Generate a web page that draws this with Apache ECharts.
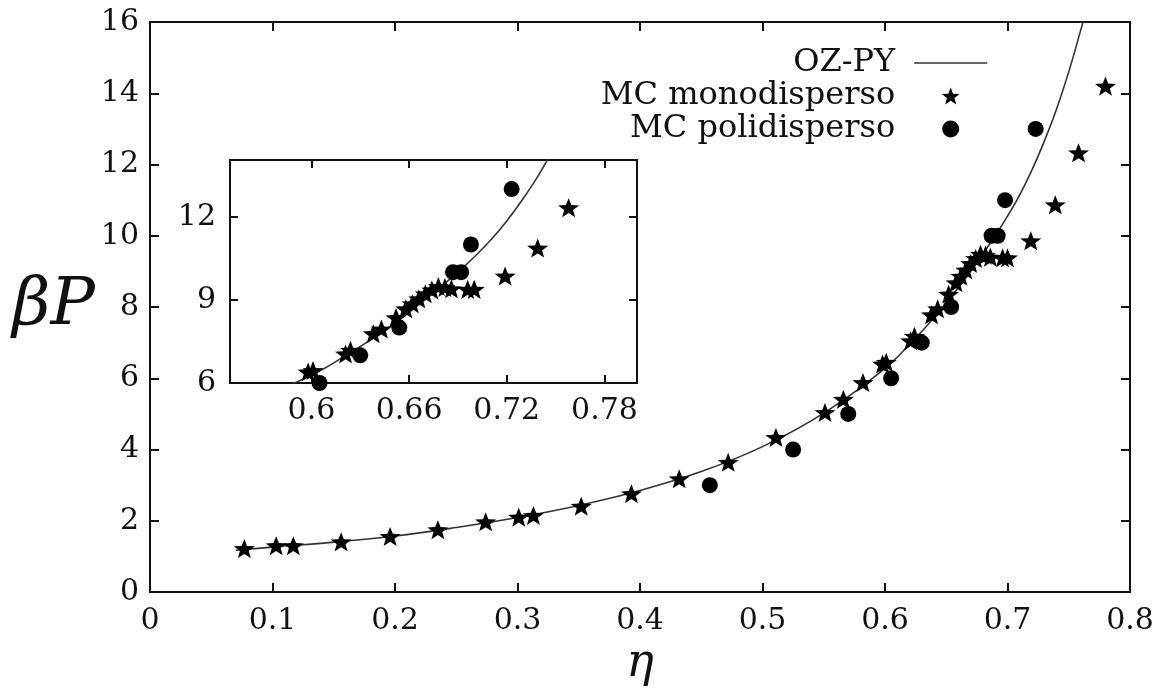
<!DOCTYPE html>
<html>
<head>
<meta charset="utf-8">
<script src="https://cdn.jsdelivr.net/npm/echarts@6/dist/echarts.min.js"></script>
<style>
html,body{margin:0;padding:0;background:#fff;}
#chart{width:1168px;height:692px;}
</style>
</head>
<body>
<div id="chart"></div>
<script>
// ---- data ----
const curveEta = [0.07, 0.10, 0.15, 0.20, 0.25, 0.30, 0.35, 0.40, 0.45, 0.50, 0.55, 0.60, 0.62, 0.64, 0.66, 0.68, 0.69, 0.70, 0.71, 0.72, 0.73, 0.74, 0.75, 0.76, 0.765];
const curveP   = [1.17, 1.26, 1.40, 1.57, 1.81, 2.09, 2.43, 2.85, 3.38, 4.08, 5.02, 6.28, 6.95, 7.70, 8.55, 9.50, 10.00, 10.55, 11.15, 11.85, 12.65, 13.55, 14.60, 15.80, 16.40];

const monoEta = [0.077, 0.103, 0.117, 0.156, 0.196, 0.235, 0.274, 0.301, 0.313, 0.352, 0.393, 0.432, 0.472, 0.511, 0.551, 0.566, 0.582, 0.598, 0.601, 0.621, 0.624, 0.638, 0.643, 0.652, 0.658, 0.662, 0.666, 0.670, 0.674, 0.678, 0.682, 0.686, 0.696, 0.700, 0.719, 0.739, 0.758, 0.780];
const monoP   = [1.22, 1.30, 1.30, 1.41, 1.56, 1.75, 1.97, 2.10, 2.15, 2.41, 2.76, 3.18, 3.64, 4.34, 5.04, 5.41, 5.88, 6.40, 6.45, 7.05, 7.18, 7.78, 7.95, 8.36, 8.68, 8.86, 9.04, 9.22, 9.36, 9.48, 9.45, 9.40, 9.38, 9.38, 9.86, 10.87, 12.33, 14.20];

const poliEta = [0.457, 0.525, 0.570, 0.605, 0.630, 0.654, 0.687, 0.692, 0.698, 0.723];
const poliP   = [3.0, 4.0, 5.0, 6.0, 7.0, 8.0, 10.0, 10.0, 11.0, 13.0];

const insetXTicks = [0.6, 0.66, 0.72, 0.78];
const insetYTicks = [6, 9, 12];

const seriesNames = ['OZ-PY', 'MC monodisperso', 'MC polidisperso'];

// ---- build ----
const zip = (a, b) => a.map((v, i) => [v, b[i]]);
const curve = zip(curveEta, curveP);
const mono = zip(monoEta, monoP);
const poli = zip(poliEta, poliP);

const STAR = 'path://M100,0 L124.7,66 L195.1,69.1 L139.9,113 L158.8,180.9 L100,142 L41.2,180.9 L60.1,113 L4.9,69.1 L75.3,66 Z';
const FONT = 'DejaVu Serif';
const INK = '#111';
const labelStyle = { fontFamily: FONT, fontSize: 30, color: INK };
const lineStyleAxis = { color: INK, width: 2 };
const curveLine = { color: '#333', width: 1.6 };
const markStyle = { color: '#000', opacity: 1 };

function xAx(grid, pos, min, max, extra, showLabel) {
  return Object.assign({
    type: 'value', gridIndex: grid, position: pos, min: min, max: max,
    axisLine: { show: true, onZero: false, lineStyle: lineStyleAxis },
    axisTick: { show: true, inside: true, length: 9, lineStyle: lineStyleAxis },
    axisLabel: Object.assign({ show: showLabel, margin: 14 }, labelStyle),
    splitLine: { show: false }
  }, extra);
}
function yAx(grid, pos, min, max, extra, showLabel) {
  return Object.assign({
    type: 'value', gridIndex: grid, position: pos, min: min, max: max,
    axisLine: { show: true, onZero: false, lineStyle: lineStyleAxis },
    axisTick: { show: true, inside: true, length: 9, lineStyle: lineStyleAxis },
    axisLabel: Object.assign({ show: showLabel, margin: 11 }, labelStyle),
    splitLine: { show: false }
  }, extra);
}

const insetXExtra = {
  axisTick: { show: true, inside: true, length: 8, lineStyle: lineStyleAxis, customValues: insetXTicks },
  axisLabel: Object.assign({ margin: 13, customValues: insetXTicks }, labelStyle)
};
const insetXTopExtra = {
  axisTick: { show: true, inside: true, length: 8, lineStyle: lineStyleAxis, customValues: insetXTicks },
  axisLabel: { show: false }
};
const insetYExtra = {
  axisTick: { show: true, inside: true, length: 8, lineStyle: lineStyleAxis, customValues: insetYTicks },
  axisLabel: Object.assign({ margin: 14, customValues: insetYTicks }, labelStyle)
};
const insetYRightExtra = {
  axisTick: { show: true, inside: true, length: 8, lineStyle: lineStyleAxis, customValues: insetYTicks },
  axisLabel: { show: false }
};

const chart = echarts.init(document.getElementById('chart'), null, { renderer: 'canvas' });
chart.setOption({
  animation: false,
  backgroundColor: '#fff',
  grid: [
    { left: 150, right: 38, top: 22, bottom: 100, show: true, borderColor: INK, borderWidth: 2, backgroundColor: '#fff' },
    { left: 230, top: 160, width: 407, height: 223, show: true, borderColor: INK, borderWidth: 2, backgroundColor: '#fff' }
  ],
  legend: {
    orient: 'vertical', align: 'right', right: 180, top: 47, padding: 0,
    itemWidth: 73, itemHeight: 17, itemGap: 1,
    data: [
      { name: seriesNames[0], itemStyle: { opacity: 0 }, lineStyle: { color: '#333', width: 1.6 } },
      { name: seriesNames[1] },
      { name: seriesNames[2] }
    ],
    textStyle: { fontFamily: FONT, fontSize: 32, color: INK, padding: [0, 14, 0, 0] },
    selectedMode: false
  },
  xAxis: [
    xAx(0, 'bottom', 0, 0.8, { interval: 0.1, name: 'η', nameLocation: 'middle', nameGap: 38,
      nameTextStyle: { fontFamily: FONT, fontStyle: 'italic', fontSize: 46, color: INK } }, true),
    xAx(0, 'top', 0, 0.8, { interval: 0.1 }, false),
    xAx(1, 'bottom', 0.55, 0.80, insetXExtra, true),
    xAx(1, 'top', 0.55, 0.80, insetXTopExtra, false)
  ],
  yAxis: [
    yAx(0, 'left', 0, 16, { interval: 2, name: 'βP', nameLocation: 'middle', nameRotate: 0, nameGap: 34,
      nameTextStyle: { fontFamily: FONT, fontStyle: 'italic', fontSize: 66, color: INK } }, true),
    yAx(0, 'right', 0, 16, { interval: 2 }, false),
    yAx(1, 'left', 6, 14.05, insetYExtra, true),
    yAx(1, 'right', 6, 14.05, insetYRightExtra, false)
  ],
  series: [
    { name: seriesNames[0], type: 'line', xAxisIndex: 0, yAxisIndex: 0, data: curve, smooth: 0.4,
      symbol: 'none', lineStyle: curveLine, itemStyle: { color: '#333' }, clip: true, z: 2 },
    { name: seriesNames[1], type: 'scatter', xAxisIndex: 0, yAxisIndex: 0, data: mono,
      symbol: STAR, symbolSize: [21, 20], symbolKeepAspect: true, itemStyle: markStyle, z: 3 },
    { name: seriesNames[2], type: 'scatter', xAxisIndex: 0, yAxisIndex: 0, data: poli,
      symbol: 'circle', symbolSize: 16, itemStyle: markStyle, z: 3 },
    { name: seriesNames[0], type: 'line', xAxisIndex: 2, yAxisIndex: 2, data: curve, smooth: 0.4,
      symbol: 'none', lineStyle: curveLine, itemStyle: { color: '#333' }, clip: true, z: 5 },
    { name: seriesNames[1], type: 'scatter', xAxisIndex: 2, yAxisIndex: 2, data: mono,
      symbol: STAR, symbolSize: [21, 20], symbolKeepAspect: true, itemStyle: markStyle, clip: true, z: 6 },
    { name: seriesNames[2], type: 'scatter', xAxisIndex: 2, yAxisIndex: 2, data: poli,
      symbol: 'circle', symbolSize: 16, itemStyle: markStyle, clip: true, z: 6 }
  ]
});
</script>
</body>
</html>
